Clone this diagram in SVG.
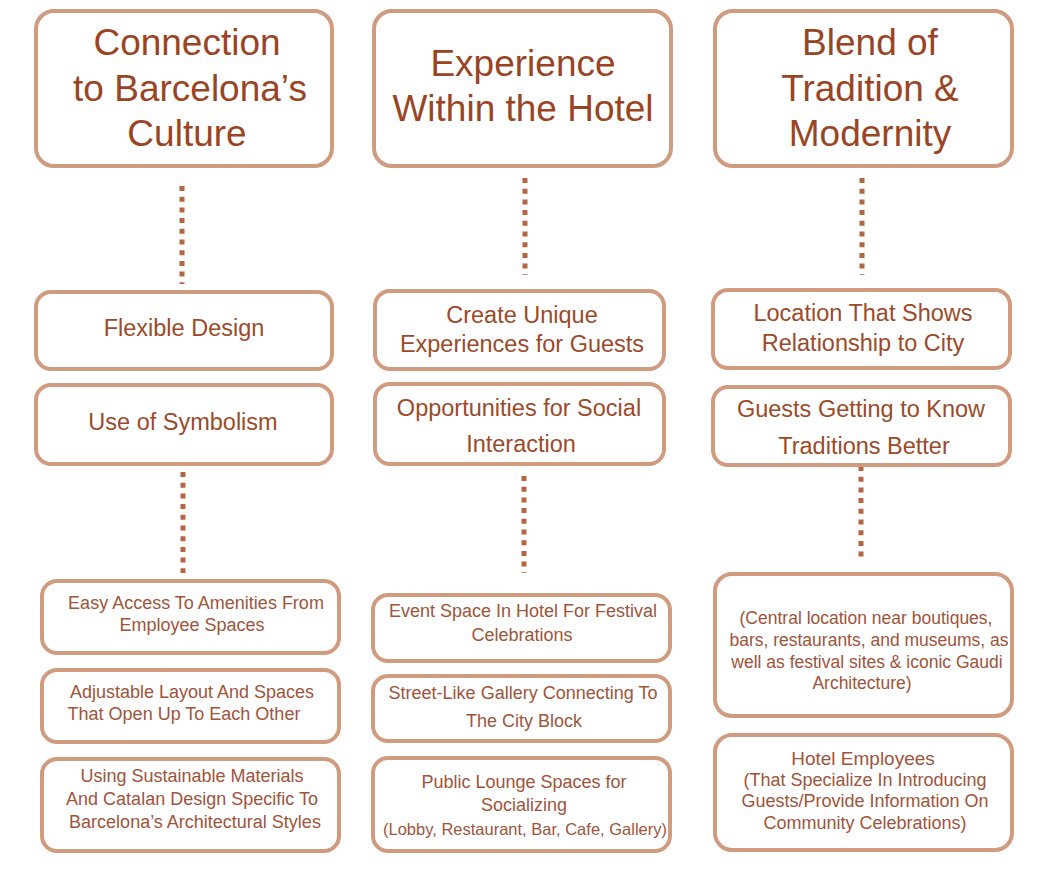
<svg xmlns="http://www.w3.org/2000/svg" width="1039" height="873" viewBox="0 0 1039 873">
<style>
.box{fill:#ffffff;stroke:#d19b80;stroke-width:4}
.t{font-family:"Liberation Sans",Arial,sans-serif;fill:#9c4a2a;text-anchor:middle}
.h{font-size:37px;fill:#9a4424}
.m{font-size:23.5px}
.s{font-size:18px;fill:#a0543a}
.dot{stroke:#b5653f;stroke-width:5;stroke-dasharray:5 5.7;fill:none}
</style>
<rect width="1039" height="873" fill="#ffffff"/>
<g id="connectors">
<line class="dot" x1="182" y1="186" x2="182" y2="284"/>
<line class="dot" x1="183" y1="472" x2="183" y2="573"/>
<line class="dot" x1="525" y1="178" x2="525" y2="275"/>
<line class="dot" x1="524" y1="476" x2="524" y2="573"/>
<line class="dot" x1="862" y1="178" x2="862" y2="275"/>
<line class="dot" x1="861" y1="466" x2="861" y2="561"/>
</g>
<g id="n-culture">
<rect class="box" x="36" y="11" width="296" height="155" rx="18"/>
<text class="t h" x="187" y="55">Connection</text>
<text class="t h" x="190" y="101">to Barcelona’s</text>
<text class="t h" x="187" y="146">Culture</text>
</g>
<g id="n-experience">
<rect class="box" x="374" y="11" width="297" height="155" rx="18"/>
<text class="t h" x="523" y="76">Experience</text>
<text class="t h" x="523" y="121">Within the Hotel</text>
</g>
<g id="n-blend">
<rect class="box" x="715" y="11" width="297" height="155" rx="18"/>
<text class="t h" x="870" y="55">Blend of</text>
<text class="t h" x="870" y="101">Tradition &amp;</text>
<text class="t h" x="870" y="146">Modernity</text>
</g>
<g id="n-flexible">
<rect class="box" x="36" y="292" width="296" height="77" rx="15"/>
<text class="t m" x="184" y="336">Flexible Design</text>
</g>
<g id="n-symbolism">
<rect class="box" x="36" y="385" width="296" height="79" rx="15"/>
<text class="t m" x="183" y="430">Use of Symbolism</text>
</g>
<g id="n-unique">
<rect class="box" x="375" y="291" width="289" height="78" rx="15"/>
<text class="t m" x="522" y="323">Create Unique</text>
<text class="t m" x="522" y="352">Experiences for Guests</text>
</g>
<g id="n-social">
<rect class="box" x="375" y="384" width="289" height="80" rx="15"/>
<text class="t m" x="519" y="416">Opportunities for Social</text>
<text class="t m" x="521" y="452">Interaction</text>
</g>
<g id="n-location">
<rect class="box" x="713" y="290" width="297" height="78" rx="15"/>
<text class="t m" x="863" y="321">Location That Shows</text>
<text class="t m" x="863" y="351">Relationship to City</text>
</g>
<g id="n-traditions">
<rect class="box" x="713" y="387" width="297" height="78" rx="15"/>
<text class="t m" x="861" y="417">Guests Getting to Know</text>
<text class="t m" x="864" y="454">Traditions Better</text>
</g>
<g id="n-access">
<rect class="box" x="42" y="581" width="297" height="72" rx="15"/>
<text class="t s" x="196" y="609">Easy Access To Amenities From</text>
<text class="t s" x="192" y="631">Employee Spaces</text>
</g>
<g id="n-layout">
<rect class="box" x="42" y="670" width="297" height="72" rx="15"/>
<text class="t s" x="192" y="698">Adjustable Layout And Spaces</text>
<text class="t s" x="184" y="720">That Open Up To Each Other</text>
</g>
<g id="n-materials">
<rect class="box" x="42" y="759" width="297" height="92" rx="15"/>
<text class="t s" x="192" y="782">Using Sustainable Materials</text>
<text class="t s" x="192" y="805">And Catalan Design Specific To</text>
<text class="t s" x="195" y="828">Barcelona’s Architectural Styles</text>
</g>
<g id="n-event">
<rect class="box" x="373" y="595" width="297" height="66" rx="15"/>
<text class="t s" x="523" y="617">Event Space In Hotel For Festival</text>
<text class="t s" x="522" y="641">Celebrations</text>
</g>
<g id="n-gallery">
<rect class="box" x="373" y="676" width="297" height="65" rx="15"/>
<text class="t s" x="523" y="699">Street-Like Gallery Connecting To</text>
<text class="t s" x="524" y="727">The City Block</text>
</g>
<g id="n-lounge">
<rect class="box" x="373" y="758" width="297" height="93" rx="15"/>
<text class="t s" x="524" y="788">Public Lounge Spaces for</text>
<text class="t s" x="524" y="811">Socializing</text>
<text class="t s" x="525" y="835" style="font-size:16.5px">(Lobby, Restaurant, Bar, Cafe, Gallery)</text>
</g>
<g id="n-central">
<rect class="box" x="715" y="574" width="297" height="142" rx="17"/>
<text class="t s" x="866" y="624" style="font-size:17.5px">(Central location near boutiques,</text>
<text class="t s" x="869" y="646" style="font-size:17.5px">bars, restaurants, and museums, as</text>
<text class="t s" x="867" y="668" style="font-size:17.5px">well as festival sites &amp; iconic Gaudi</text>
<text class="t s" x="862" y="689" style="font-size:17.5px">Architecture)</text>
</g>
<g id="n-employees">
<rect class="box" x="715" y="735" width="297" height="115" rx="17"/>
<text class="t s" x="863" y="765" style="font-size:19px">Hotel Employees</text>
<text class="t s" x="865" y="786">(That Specialize In Introducing</text>
<text class="t s" x="865" y="807">Guests/Provide Information On</text>
<text class="t s" x="865" y="829">Community Celebrations)</text>
</g>
</svg>
